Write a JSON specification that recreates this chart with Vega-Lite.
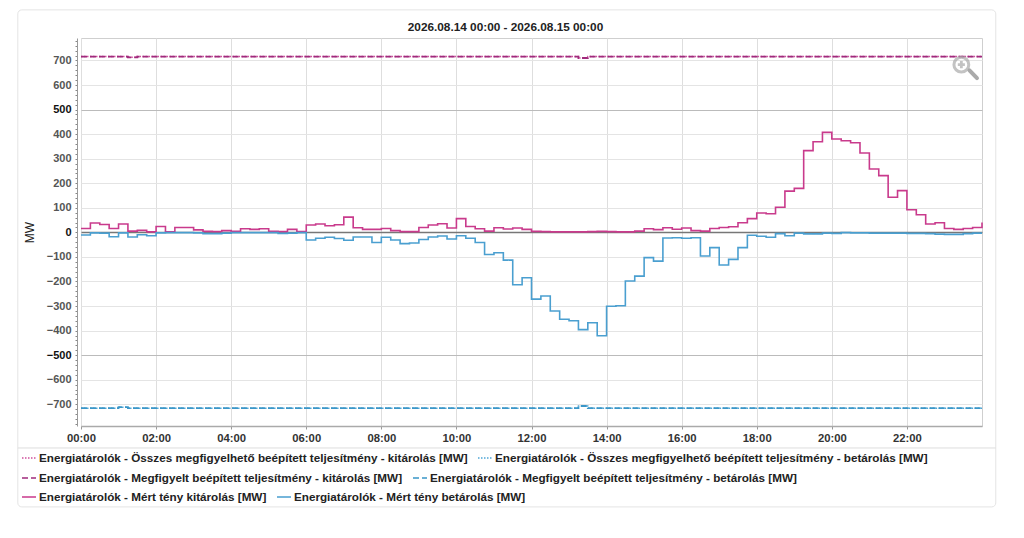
{"$schema":"https://vega.github.io/schema/vega-lite/v6.json","width":901,"height":388,"autosize":{"type":"none"},"padding":{"left":81,"top":38,"right":42,"bottom":112},"background":"white","config":{"font":"Liberation Sans","view":{"stroke":"#cfcfcf","strokeWidth":1},"legend":{"orient":"none","symbolType":"stroke","symbolSize":196,"symbolStrokeWidth":1.5,"labelFont":"Liberation Sans","labelFontSize":11.7,"labelFontWeight":"bold","labelColor":"#222","labelLimit":500,"labelOffset":2,"padding":0}},"title":{"text":"2026.08.14 00:00 - 2026.08.15 00:00","anchor":"middle","frame":"group","dx":-26,"offset":-24,"fontSize":11.8,"fontWeight":"bold","color":"#222","font":"Liberation Sans"},"data":{"values":[
{"t":"2026-08-14T00:00","osszesKi":716,"osszesBe":-716,"megfKi":716,"megfBe":-716,"ki":16,"be":-11},
{"t":"2026-08-14T00:15","osszesKi":716,"osszesBe":-716,"megfKi":716,"megfBe":-716,"ki":38,"be":-2},
{"t":"2026-08-14T00:30","osszesKi":716,"osszesBe":-716,"megfKi":716,"megfBe":-716,"ki":32,"be":-3},
{"t":"2026-08-14T00:45","osszesKi":716,"osszesBe":-716,"megfKi":716,"megfBe":-716,"ki":16,"be":-18},
{"t":"2026-08-14T01:00","osszesKi":716,"osszesBe":-712,"megfKi":716,"megfBe":-712,"ki":34,"be":-2},
{"t":"2026-08-14T01:15","osszesKi":713,"osszesBe":-716,"megfKi":713,"megfBe":-716,"ki":5,"be":-19},
{"t":"2026-08-14T01:30","osszesKi":716,"osszesBe":-716,"megfKi":716,"megfBe":-716,"ki":8,"be":-10},
{"t":"2026-08-14T01:45","osszesKi":716,"osszesBe":-716,"megfKi":716,"megfBe":-716,"ki":2,"be":-14},
{"t":"2026-08-14T02:00","osszesKi":716,"osszesBe":-716,"megfKi":716,"megfBe":-716,"ki":24,"be":-2},
{"t":"2026-08-14T02:15","osszesKi":716,"osszesBe":-716,"megfKi":716,"megfBe":-716,"ki":2,"be":-1},
{"t":"2026-08-14T02:30","osszesKi":716,"osszesBe":-716,"megfKi":716,"megfBe":-716,"ki":20,"be":-1},
{"t":"2026-08-14T02:45","osszesKi":716,"osszesBe":-716,"megfKi":716,"megfBe":-716,"ki":20,"be":-1},
{"t":"2026-08-14T03:00","osszesKi":716,"osszesBe":-716,"megfKi":716,"megfBe":-716,"ki":10,"be":-2},
{"t":"2026-08-14T03:15","osszesKi":716,"osszesBe":-716,"megfKi":716,"megfBe":-716,"ki":4,"be":-5},
{"t":"2026-08-14T03:30","osszesKi":716,"osszesBe":-716,"megfKi":716,"megfBe":-716,"ki":3,"be":-5},
{"t":"2026-08-14T03:45","osszesKi":716,"osszesBe":-716,"megfKi":716,"megfBe":-716,"ki":7,"be":-3},
{"t":"2026-08-14T04:00","osszesKi":716,"osszesBe":-716,"megfKi":716,"megfBe":-716,"ki":4,"be":-1},
{"t":"2026-08-14T04:15","osszesKi":716,"osszesBe":-716,"megfKi":716,"megfBe":-716,"ki":15,"be":-1},
{"t":"2026-08-14T04:30","osszesKi":716,"osszesBe":-716,"megfKi":716,"megfBe":-716,"ki":12,"be":-1},
{"t":"2026-08-14T04:45","osszesKi":716,"osszesBe":-716,"megfKi":716,"megfBe":-716,"ki":15,"be":-1},
{"t":"2026-08-14T05:00","osszesKi":716,"osszesBe":-716,"megfKi":716,"megfBe":-716,"ki":4,"be":-1},
{"t":"2026-08-14T05:15","osszesKi":716,"osszesBe":-716,"megfKi":716,"megfBe":-716,"ki":3,"be":-4},
{"t":"2026-08-14T05:30","osszesKi":716,"osszesBe":-716,"megfKi":716,"megfBe":-716,"ki":12,"be":-3},
{"t":"2026-08-14T05:45","osszesKi":716,"osszesBe":-716,"megfKi":716,"megfBe":-716,"ki":3,"be":-1},
{"t":"2026-08-14T06:00","osszesKi":716,"osszesBe":-716,"megfKi":716,"megfBe":-716,"ki":30,"be":-31},
{"t":"2026-08-14T06:15","osszesKi":716,"osszesBe":-716,"megfKi":716,"megfBe":-716,"ki":34,"be":-24},
{"t":"2026-08-14T06:30","osszesKi":716,"osszesBe":-716,"megfKi":716,"megfBe":-716,"ki":27,"be":-20},
{"t":"2026-08-14T06:45","osszesKi":716,"osszesBe":-716,"megfKi":716,"megfBe":-716,"ki":31,"be":-25},
{"t":"2026-08-14T07:00","osszesKi":716,"osszesBe":-716,"megfKi":716,"megfBe":-716,"ki":62,"be":-32},
{"t":"2026-08-14T07:15","osszesKi":716,"osszesBe":-716,"megfKi":716,"megfBe":-716,"ki":19,"be":-19},
{"t":"2026-08-14T07:30","osszesKi":716,"osszesBe":-716,"megfKi":716,"megfBe":-716,"ki":12,"be":-19},
{"t":"2026-08-14T07:45","osszesKi":716,"osszesBe":-716,"megfKi":716,"megfBe":-716,"ki":12,"be":-41},
{"t":"2026-08-14T08:00","osszesKi":716,"osszesBe":-716,"megfKi":716,"megfBe":-716,"ki":16,"be":-20},
{"t":"2026-08-14T08:15","osszesKi":716,"osszesBe":-716,"megfKi":716,"megfBe":-716,"ki":7,"be":-31},
{"t":"2026-08-14T08:30","osszesKi":716,"osszesBe":-716,"megfKi":716,"megfBe":-716,"ki":3,"be":-46},
{"t":"2026-08-14T08:45","osszesKi":716,"osszesBe":-716,"megfKi":716,"megfBe":-716,"ki":3,"be":-43},
{"t":"2026-08-14T09:00","osszesKi":716,"osszesBe":-716,"megfKi":716,"megfBe":-716,"ki":20,"be":-29},
{"t":"2026-08-14T09:15","osszesKi":716,"osszesBe":-716,"megfKi":716,"megfBe":-716,"ki":30,"be":-19},
{"t":"2026-08-14T09:30","osszesKi":716,"osszesBe":-716,"megfKi":716,"megfBe":-716,"ki":35,"be":-15},
{"t":"2026-08-14T09:45","osszesKi":716,"osszesBe":-716,"megfKi":716,"megfBe":-716,"ki":18,"be":-27},
{"t":"2026-08-14T10:00","osszesKi":716,"osszesBe":-716,"megfKi":716,"megfBe":-716,"ki":56,"be":-14},
{"t":"2026-08-14T10:15","osszesKi":716,"osszesBe":-716,"megfKi":716,"megfBe":-716,"ki":24,"be":-24},
{"t":"2026-08-14T10:30","osszesKi":716,"osszesBe":-716,"megfKi":716,"megfBe":-716,"ki":15,"be":-41},
{"t":"2026-08-14T10:45","osszesKi":716,"osszesBe":-716,"megfKi":716,"megfBe":-716,"ki":5,"be":-90},
{"t":"2026-08-14T11:00","osszesKi":716,"osszesBe":-716,"megfKi":716,"megfBe":-716,"ki":19,"be":-83},
{"t":"2026-08-14T11:15","osszesKi":716,"osszesBe":-716,"megfKi":716,"megfBe":-716,"ki":14,"be":-113},
{"t":"2026-08-14T11:30","osszesKi":716,"osszesBe":-716,"megfKi":716,"megfBe":-716,"ki":18,"be":-213},
{"t":"2026-08-14T11:45","osszesKi":716,"osszesBe":-716,"megfKi":716,"megfBe":-716,"ki":12,"be":-185},
{"t":"2026-08-14T12:00","osszesKi":716,"osszesBe":-716,"megfKi":716,"megfBe":-716,"ki":4,"be":-272},
{"t":"2026-08-14T12:15","osszesKi":716,"osszesBe":-716,"megfKi":716,"megfBe":-716,"ki":3,"be":-259},
{"t":"2026-08-14T12:30","osszesKi":716,"osszesBe":-716,"megfKi":716,"megfBe":-716,"ki":2,"be":-320},
{"t":"2026-08-14T12:45","osszesKi":716,"osszesBe":-716,"megfKi":716,"megfBe":-716,"ki":2,"be":-354},
{"t":"2026-08-14T13:00","osszesKi":716,"osszesBe":-716,"megfKi":716,"megfBe":-716,"ki":2,"be":-360},
{"t":"2026-08-14T13:15","osszesKi":710,"osszesBe":-707,"megfKi":710,"megfBe":-707,"ki":2,"be":-396},
{"t":"2026-08-14T13:30","osszesKi":716,"osszesBe":-716,"megfKi":716,"megfBe":-716,"ki":3,"be":-368},
{"t":"2026-08-14T13:45","osszesKi":716,"osszesBe":-716,"megfKi":716,"megfBe":-716,"ki":4,"be":-421},
{"t":"2026-08-14T14:00","osszesKi":716,"osszesBe":-716,"megfKi":716,"megfBe":-716,"ki":3,"be":-301},
{"t":"2026-08-14T14:15","osszesKi":716,"osszesBe":-716,"megfKi":716,"megfBe":-716,"ki":2,"be":-299},
{"t":"2026-08-14T14:30","osszesKi":716,"osszesBe":-716,"megfKi":716,"megfBe":-716,"ki":2,"be":-198},
{"t":"2026-08-14T14:45","osszesKi":716,"osszesBe":-716,"megfKi":716,"megfBe":-716,"ki":5,"be":-178},
{"t":"2026-08-14T15:00","osszesKi":716,"osszesBe":-716,"megfKi":716,"megfBe":-716,"ki":15,"be":-103},
{"t":"2026-08-14T15:15","osszesKi":716,"osszesBe":-716,"megfKi":716,"megfBe":-716,"ki":11,"be":-117},
{"t":"2026-08-14T15:30","osszesKi":716,"osszesBe":-716,"megfKi":716,"megfBe":-716,"ki":19,"be":-23},
{"t":"2026-08-14T15:45","osszesKi":716,"osszesBe":-716,"megfKi":716,"megfBe":-716,"ki":13,"be":-22},
{"t":"2026-08-14T16:00","osszesKi":716,"osszesBe":-716,"megfKi":716,"megfBe":-716,"ki":18,"be":-24},
{"t":"2026-08-14T16:15","osszesKi":716,"osszesBe":-716,"megfKi":716,"megfBe":-716,"ki":7,"be":-22},
{"t":"2026-08-14T16:30","osszesKi":716,"osszesBe":-716,"megfKi":716,"megfBe":-716,"ki":5,"be":-96},
{"t":"2026-08-14T16:45","osszesKi":716,"osszesBe":-716,"megfKi":716,"megfBe":-716,"ki":16,"be":-62},
{"t":"2026-08-14T17:00","osszesKi":716,"osszesBe":-716,"megfKi":716,"megfBe":-716,"ki":20,"be":-133},
{"t":"2026-08-14T17:15","osszesKi":716,"osszesBe":-716,"megfKi":716,"megfBe":-716,"ki":23,"be":-110},
{"t":"2026-08-14T17:30","osszesKi":716,"osszesBe":-716,"megfKi":716,"megfBe":-716,"ki":39,"be":-62},
{"t":"2026-08-14T17:45","osszesKi":716,"osszesBe":-716,"megfKi":716,"megfBe":-716,"ki":56,"be":-12},
{"t":"2026-08-14T18:00","osszesKi":716,"osszesBe":-716,"megfKi":716,"megfBe":-716,"ki":79,"be":-16},
{"t":"2026-08-14T18:15","osszesKi":716,"osszesBe":-716,"megfKi":716,"megfBe":-716,"ki":76,"be":-20},
{"t":"2026-08-14T18:30","osszesKi":716,"osszesBe":-716,"megfKi":716,"megfBe":-716,"ki":102,"be":-5},
{"t":"2026-08-14T18:45","osszesKi":716,"osszesBe":-716,"megfKi":716,"megfBe":-716,"ki":168,"be":-14},
{"t":"2026-08-14T19:00","osszesKi":716,"osszesBe":-716,"megfKi":716,"megfBe":-716,"ki":179,"be":-3},
{"t":"2026-08-14T19:15","osszesKi":716,"osszesBe":-716,"megfKi":716,"megfBe":-716,"ki":333,"be":-6},
{"t":"2026-08-14T19:30","osszesKi":716,"osszesBe":-716,"megfKi":716,"megfBe":-716,"ki":369,"be":-6},
{"t":"2026-08-14T19:45","osszesKi":716,"osszesBe":-716,"megfKi":716,"megfBe":-716,"ki":407,"be":-3},
{"t":"2026-08-14T20:00","osszesKi":716,"osszesBe":-716,"megfKi":716,"megfBe":-716,"ki":380,"be":-4},
{"t":"2026-08-14T20:15","osszesKi":716,"osszesBe":-716,"megfKi":716,"megfBe":-716,"ki":373,"be":-1},
{"t":"2026-08-14T20:30","osszesKi":716,"osszesBe":-716,"megfKi":716,"megfBe":-716,"ki":365,"be":-2},
{"t":"2026-08-14T20:45","osszesKi":716,"osszesBe":-716,"megfKi":716,"megfBe":-716,"ki":323,"be":-2},
{"t":"2026-08-14T21:00","osszesKi":716,"osszesBe":-716,"megfKi":716,"megfBe":-716,"ki":258,"be":-3},
{"t":"2026-08-14T21:15","osszesKi":716,"osszesBe":-716,"megfKi":716,"megfBe":-716,"ki":231,"be":-3},
{"t":"2026-08-14T21:30","osszesKi":716,"osszesBe":-716,"megfKi":716,"megfBe":-716,"ki":143,"be":-3},
{"t":"2026-08-14T21:45","osszesKi":716,"osszesBe":-716,"megfKi":716,"megfBe":-716,"ki":170,"be":-3},
{"t":"2026-08-14T22:00","osszesKi":716,"osszesBe":-716,"megfKi":716,"megfBe":-716,"ki":92,"be":-4},
{"t":"2026-08-14T22:15","osszesKi":716,"osszesBe":-716,"megfKi":716,"megfBe":-716,"ki":72,"be":-4},
{"t":"2026-08-14T22:30","osszesKi":716,"osszesBe":-716,"megfKi":716,"megfBe":-716,"ki":34,"be":-5},
{"t":"2026-08-14T22:45","osszesKi":716,"osszesBe":-716,"megfKi":716,"megfBe":-716,"ki":39,"be":-7},
{"t":"2026-08-14T23:00","osszesKi":716,"osszesBe":-716,"megfKi":716,"megfBe":-716,"ki":16,"be":-8},
{"t":"2026-08-14T23:15","osszesKi":716,"osszesBe":-716,"megfKi":716,"megfBe":-716,"ki":12,"be":-8},
{"t":"2026-08-14T23:30","osszesKi":716,"osszesBe":-716,"megfKi":716,"megfBe":-716,"ki":16,"be":-5},
{"t":"2026-08-14T23:45","osszesKi":716,"osszesBe":-716,"megfKi":716,"megfBe":-716,"ki":20,"be":-3},
{"t":"2026-08-15T00:00","osszesKi":716,"osszesBe":-716,"megfKi":716,"megfBe":-716,"ki":40,"be":-3}
]},"resolve":{"axis":{"y":"independent"},"scale":{"color":"independent","strokeDash":"independent"}},"layer":[
{"data":{"values":[{}]},"mark":{"type":"rect","fill":null,"stroke":"#e4e4e4","strokeWidth":1,"cornerRadius":4,"clip":false},"encoding":{"x":{"datum":{"year":2026,"month":8,"date":13,"hours":22,"minutes":19},"type":"temporal","title":null,"scale":{"domain":[{"year":2026,"month":8,"date":14,"hours":0},{"year":2026,"month":8,"date":15,"hours":0}]},"axis":{"format":"%H:%M","title":null,"values":[{"year":2026,"month":8,"date":14,"hours":0},{"year":2026,"month":8,"date":14,"hours":2},{"year":2026,"month":8,"date":14,"hours":4},{"year":2026,"month":8,"date":14,"hours":6},{"year":2026,"month":8,"date":14,"hours":8},{"year":2026,"month":8,"date":14,"hours":10},{"year":2026,"month":8,"date":14,"hours":12},{"year":2026,"month":8,"date":14,"hours":14},{"year":2026,"month":8,"date":14,"hours":16},{"year":2026,"month":8,"date":14,"hours":18},{"year":2026,"month":8,"date":14,"hours":20},{"year":2026,"month":8,"date":14,"hours":22}],"grid":true,"gridColor":"#dedede","labelFontSize":11.3,"labelFontWeight":"bold","labelColor":"#333","labelPadding":3,"labelFlush":false,"tickSize":3,"tickColor":"#999","domainColor":"#aaaaaa","domainWidth":1.5}},"x2":{"datum":{"year":2026,"month":8,"date":15,"hours":0,"minutes":22}},"y":{"datum":906,"type":"quantitative","scale":{"domain":[-788.5,791.5],"nice":false,"zero":false},"axis":{"orient":"left","offset":4,"values":[-780,-760,-740,-720,-700,-680,-660,-640,-620,-600,-580,-560,-540,-520,-500,-480,-460,-440,-420,-400,-380,-360,-340,-320,-300,-280,-260,-240,-220,-200,-180,-160,-140,-120,-100,-80,-60,-40,-20,0,20,40,60,80,100,120,140,160,180,200,220,240,260,280,300,320,340,360,380,400,420,440,460,480,500,520,540,560,580,600,620,640,660,680,700,720,740,760,780],"labels":false,"title":null,"grid":false,"domain":true,"domainColor":"#999","ticks":true,"tickSize":2,"tickColor":"#888"}},"y2":{"datum":-1118}}},
{"data":{"values":[{}]},"mark":{"type":"rule","stroke":"#dddddd","strokeWidth":1,"clip":false},"encoding":{"x":{"datum":{"year":2026,"month":8,"date":13,"hours":22,"minutes":19},"type":"temporal","title":null},"x2":{"datum":{"year":2026,"month":8,"date":15,"hours":0,"minutes":22}},"y":{"datum":-878,"type":"quantitative","axis":null}}},
{"mark":{"type":"line","interpolate":"step-after","strokeWidth":1.4},"encoding":{"x":{"field":"t","type":"temporal","title":null},"y":{"field":"osszesKi","type":"quantitative","title":"MW","axis":{"orient":"left","values":[-700,-600,-500,-400,-300,-200,-100,0,100,200,300,400,500,600,700],"domain":false,"ticks":false,"labelPadding":10,"labelFontSize":11,"labelFontWeight":"bold","labelColor":{"condition":[{"test":"abs(datum.value)==500||datum.value==0","value":"#111111"}],"value":"#555555"},"grid":true,"gridColor":{"condition":[{"test":"datum.value==0","value":"#777777"},{"test":"abs(datum.value)==500","value":"#bbbbbb"}],"value":"#e4e4e4"},"gridWidth":{"condition":[{"test":"datum.value==0","value":1.5}],"value":1},"titleX":-45,"titleY":194,"titleFontSize":12,"titleFontWeight":"normal","titleColor":"#222"}},"color":{"datum":"Energiatárolók - Összes megfigyelhető beépített teljesítmény - kitárolás [MW]","type":"nominal","title":null,"scale":{"domain":["Energiatárolók - Összes megfigyelhető beépített teljesítmény - kitárolás [MW]"],"range":["#d0509c"]},"legend":{"legendX":-60,"legendY":412}},"strokeDash":{"datum":"Energiatárolók - Összes megfigyelhető beépített teljesítmény - kitárolás [MW]","type":"nominal","title":null,"scale":{"domain":["Energiatárolók - Összes megfigyelhető beépített teljesítmény - kitárolás [MW]"],"range":[[1.5,1.5]]},"legend":{"legendX":-60,"legendY":412}}}},
{"mark":{"type":"line","interpolate":"step-after","strokeWidth":1.4},"encoding":{"x":{"field":"t","type":"temporal","title":null},"y":{"field":"osszesBe","type":"quantitative","axis":null},"color":{"datum":"Energiatárolók - Összes megfigyelhető beépített teljesítmény - betárolás [MW]","type":"nominal","title":null,"scale":{"domain":["Energiatárolók - Összes megfigyelhető beépített teljesítmény - betárolás [MW]"],"range":["#4ea6d6"]},"legend":{"legendX":396,"legendY":412}},"strokeDash":{"datum":"Energiatárolók - Összes megfigyelhető beépített teljesítmény - betárolás [MW]","type":"nominal","title":null,"scale":{"domain":["Energiatárolók - Összes megfigyelhető beépített teljesítmény - betárolás [MW]"],"range":[[1.5,1.5]]},"legend":{"legendX":396,"legendY":412}}}},
{"mark":{"type":"line","interpolate":"step-after","strokeWidth":1.8},"encoding":{"x":{"field":"t","type":"temporal","title":null},"y":{"field":"megfKi","type":"quantitative","axis":null},"color":{"datum":"Energiatárolók - Megfigyelt beépített teljesítmény - kitárolás [MW]","type":"nominal","title":null,"scale":{"domain":["Energiatárolók - Megfigyelt beépített teljesítmény - kitárolás [MW]"],"range":["#a02a7c"]},"legend":{"legendX":-60,"legendY":432}},"strokeDash":{"datum":"Energiatárolók - Megfigyelt beépített teljesítmény - kitárolás [MW]","type":"nominal","title":null,"scale":{"domain":["Energiatárolók - Megfigyelt beépített teljesítmény - kitárolás [MW]"],"range":[[6,3]]},"legend":{"legendX":-60,"legendY":432}}}},
{"mark":{"type":"line","interpolate":"step-after","strokeWidth":1.8},"encoding":{"x":{"field":"t","type":"temporal","title":null},"y":{"field":"megfBe","type":"quantitative","axis":null},"color":{"datum":"Energiatárolók - Megfigyelt beépített teljesítmény - betárolás [MW]","type":"nominal","title":null,"scale":{"domain":["Energiatárolók - Megfigyelt beépített teljesítmény - betárolás [MW]"],"range":["#3a96c8"]},"legend":{"legendX":331,"legendY":432}},"strokeDash":{"datum":"Energiatárolók - Megfigyelt beépített teljesítmény - betárolás [MW]","type":"nominal","title":null,"scale":{"domain":["Energiatárolók - Megfigyelt beépített teljesítmény - betárolás [MW]"],"range":[[6,3]]},"legend":{"legendX":331,"legendY":432}}}},
{"mark":{"type":"line","interpolate":"step-after","strokeWidth":1.6},"encoding":{"x":{"field":"t","type":"temporal","title":null},"y":{"field":"ki","type":"quantitative","axis":null},"color":{"datum":"Energiatárolók - Mért tény kitárolás [MW]","type":"nominal","title":null,"scale":{"domain":["Energiatárolók - Mért tény kitárolás [MW]"],"range":["#c93a8c"]},"legend":{"legendX":-60,"legendY":451}},"strokeDash":{"datum":"Energiatárolók - Mért tény kitárolás [MW]","type":"nominal","title":null,"scale":{"domain":["Energiatárolók - Mért tény kitárolás [MW]"],"range":[[1,0]]},"legend":{"legendX":-60,"legendY":451}}}},
{"mark":{"type":"line","interpolate":"step-after","strokeWidth":1.6},"encoding":{"x":{"field":"t","type":"temporal","title":null},"y":{"field":"be","type":"quantitative","axis":null},"color":{"datum":"Energiatárolók - Mért tény betárolás [MW]","type":"nominal","title":null,"scale":{"domain":["Energiatárolók - Mért tény betárolás [MW]"],"range":["#4a9fd0"]},"legend":{"legendX":195,"legendY":451}},"strokeDash":{"datum":"Energiatárolók - Mért tény betárolás [MW]","type":"nominal","title":null,"scale":{"domain":["Energiatárolók - Mért tény betárolás [MW]"],"range":[[1,0]]},"legend":{"legendX":195,"legendY":451}}}},
{"data":{"values":[{}]},"mark":{"type":"rule","stroke":"#aaaaaa","strokeWidth":4,"strokeCap":"round","clip":false},"encoding":{"x":{"datum":{"year":2026,"month":8,"date":14,"hours":23,"minutes":40},"type":"temporal","title":null},"x2":{"datum":{"year":2026,"month":8,"date":14,"hours":23,"minutes":52}},"y":{"datum":660,"type":"quantitative","axis":null},"y2":{"datum":628}}},
{"data":{"values":[{}]},"mark":{"type":"point","shape":"circle","size":220,"filled":false,"stroke":"#aaaaaa","strokeWidth":3,"clip":false},"encoding":{"x":{"datum":{"year":2026,"month":8,"date":14,"hours":23,"minutes":27},"type":"temporal","title":null},"y":{"datum":683,"type":"quantitative","axis":null}}},
{"data":{"values":[{}]},"mark":{"type":"point","shape":"cross","size":50,"filled":true,"fill":"#aaaaaa","stroke":null,"clip":false},"encoding":{"x":{"datum":{"year":2026,"month":8,"date":14,"hours":23,"minutes":27},"type":"temporal","title":null},"y":{"datum":683,"type":"quantitative","axis":null}}}
]}
